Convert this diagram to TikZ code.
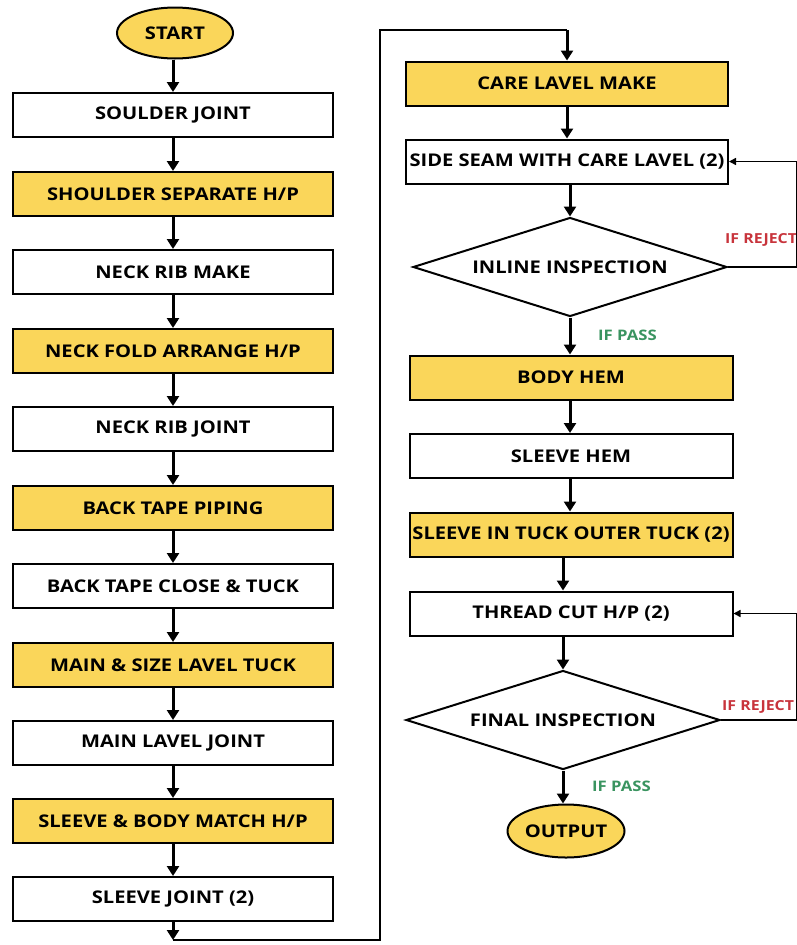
\documentclass[tikz,border=0pt]{standalone}
\usepackage{fontspec}
\setmainfont{Open Sans}[FakeStretch=1.15]
\usetikzlibrary{shapes.geometric,arrows.meta}
\definecolor{yel}{HTML}{FAD65A}
\definecolor{rej}{HTML}{C8343C}
\definecolor{pas}{HTML}{3A9460}
\tikzset{
  txt/.style={font=\bfseries\fontsize{17.5}{17.5}\selectfont},
  box/.style={draw, line width=2pt, minimum width=320pt, minimum height=44pt, inner sep=0pt, txt},
  ybox/.style={box, fill=yel},
  term/.style={ellipse, draw, line width=2pt, fill=yel, inner sep=0pt, txt},
  dec/.style={diamond, draw, line width=2pt, inner sep=0pt, aspect=3.17, minimum width=314pt, minimum height=99pt, txt},
  arr/.style={line width=3pt, -{Triangle[length=10pt,width=12pt]}},
  thinline/.style={line width=1.5pt},
  retarr/.style={line width=1.5pt, -{Triangle[length=7pt,width=7pt]}},
  rejlab/.style={text=rej, font=\bfseries\fontsize{13.8}{13.8}\selectfont, anchor=west, inner sep=0pt},
  paslab/.style={text=pas, font=\bfseries\fontsize{14.5}{14.5}\selectfont, anchor=west, inner sep=0pt}
}
\begin{document}
\begin{tikzpicture}[x=1pt,y=-1pt]
\useasboundingbox (0,0) rectangle (797,945);
\fill[white] (0,0) rectangle (797,945);
% left column
\node[term, minimum width=116pt, minimum height=51pt] (start) at (175,33) {START};
\node[box]  (b1)  at (173,115) {SOULDER JOINT};
\node[ybox] (b2)  at (173,194) {SHOULDER SEPARATE H/P};
\node[box]  (b3)  at (173,272) {NECK RIB MAKE};
\node[ybox] (b4)  at (173,351) {NECK FOLD ARRANGE H/P};
\node[box]  (b5)  at (173,429) {NECK RIB JOINT};
\node[ybox] (b6)  at (173,508) {BACK TAPE PIPING};
\node[box]  (b7)  at (173,586) {BACK TAPE CLOSE \& TUCK};
\node[ybox] (b8)  at (173,665) {MAIN \& SIZE LAVEL TUCK};
\node[box]  (b9)  at (173,743) {MAIN LAVEL JOINT};
\node[ybox] (b10) at (173,821) {SLEEVE \& BODY MATCH H/P};
\node[box]  (b11) at (173,899) {SLEEVE JOINT (2)};
% right column
\node[ybox, minimum width=322pt] (care) at (567,83.5) {CARE LAVEL MAKE};
\node[box, minimum width=322pt] (side) at (567,161.5) {SIDE SEAM WITH CARE LAVEL (2)};
\node[dec] (inl) at (570,267) {INLINE INSPECTION};
\node[ybox, minimum width=323pt] (body) at (571,377.5) {BODY HEM};
\node[box, minimum width=323pt] (shem) at (571,456) {SLEEVE HEM};
\node[ybox, minimum width=323pt] (tuck) at (571,534.5) {SLEEVE IN TUCK OUTER TUCK (2)};
\node[box, minimum width=323pt] (thr) at (571,613.5) {THREAD CUT H/P (2)};
\node[dec] (fin) at (563,720) {FINAL INSPECTION};
\node[term, minimum width=117pt, minimum height=53pt] (out) at (566,831) {OUTPUT};
% labels
\node[rejlab] (rj1) at (725,240) {IF REJECT};
\node[paslab] (ps1) at (598,335) {IF PASS};
\node[rejlab] (rj2) at (722,707) {IF REJECT};
\node[paslab] (ps2) at (592,786) {IF PASS};
% left arrows
\draw[arr] (start.south -| b1.north) -- (b1.north);
\foreach \a/\b in {b1/b2,b2/b3,b3/b4,b4/b5,b5/b6,b6/b7,b7/b8,b8/b9,b9/b10,b10/b11}
  \draw[arr] (\a.south) -- (\b.north);
% loop
\coordinate (lb) at (173,940);
\coordinate (lbr) at (380,940);
\coordinate (ltr) at (380,30);
\coordinate (tp) at (567,30);
\draw[arr] (b11.south) -- (lb);
\draw[thinline] (lb) -- (lbr) -- (ltr) -- (tp);
\draw[arr] (tp) -- (care.north);
% right arrows
\draw[arr] (care.south) -- (side.north);
\draw[arr] (side.south -| inl.north) -- (inl.north);
\draw[arr] (inl.south) -- (inl.south |- body.north);
\draw[arr] (body.south -| inl.south) -- (inl.south |- shem.north);
\draw[arr] (shem.south -| inl.south) -- (inl.south |- tuck.north);
\draw[arr] (tuck.south -| fin.north) -- (fin.north |- thr.north);
\draw[arr] (thr.south -| fin.north) -- (fin.north);
\draw[arr] (fin.south) -- (out.north -| fin.south);
% reject loops
\draw[retarr] (inl.east) -- ++(69,0) |- (side.east);
\draw[retarr] (fin.east) -- ++(76,0) |- (thr.east);
\end{tikzpicture}
\end{document}
